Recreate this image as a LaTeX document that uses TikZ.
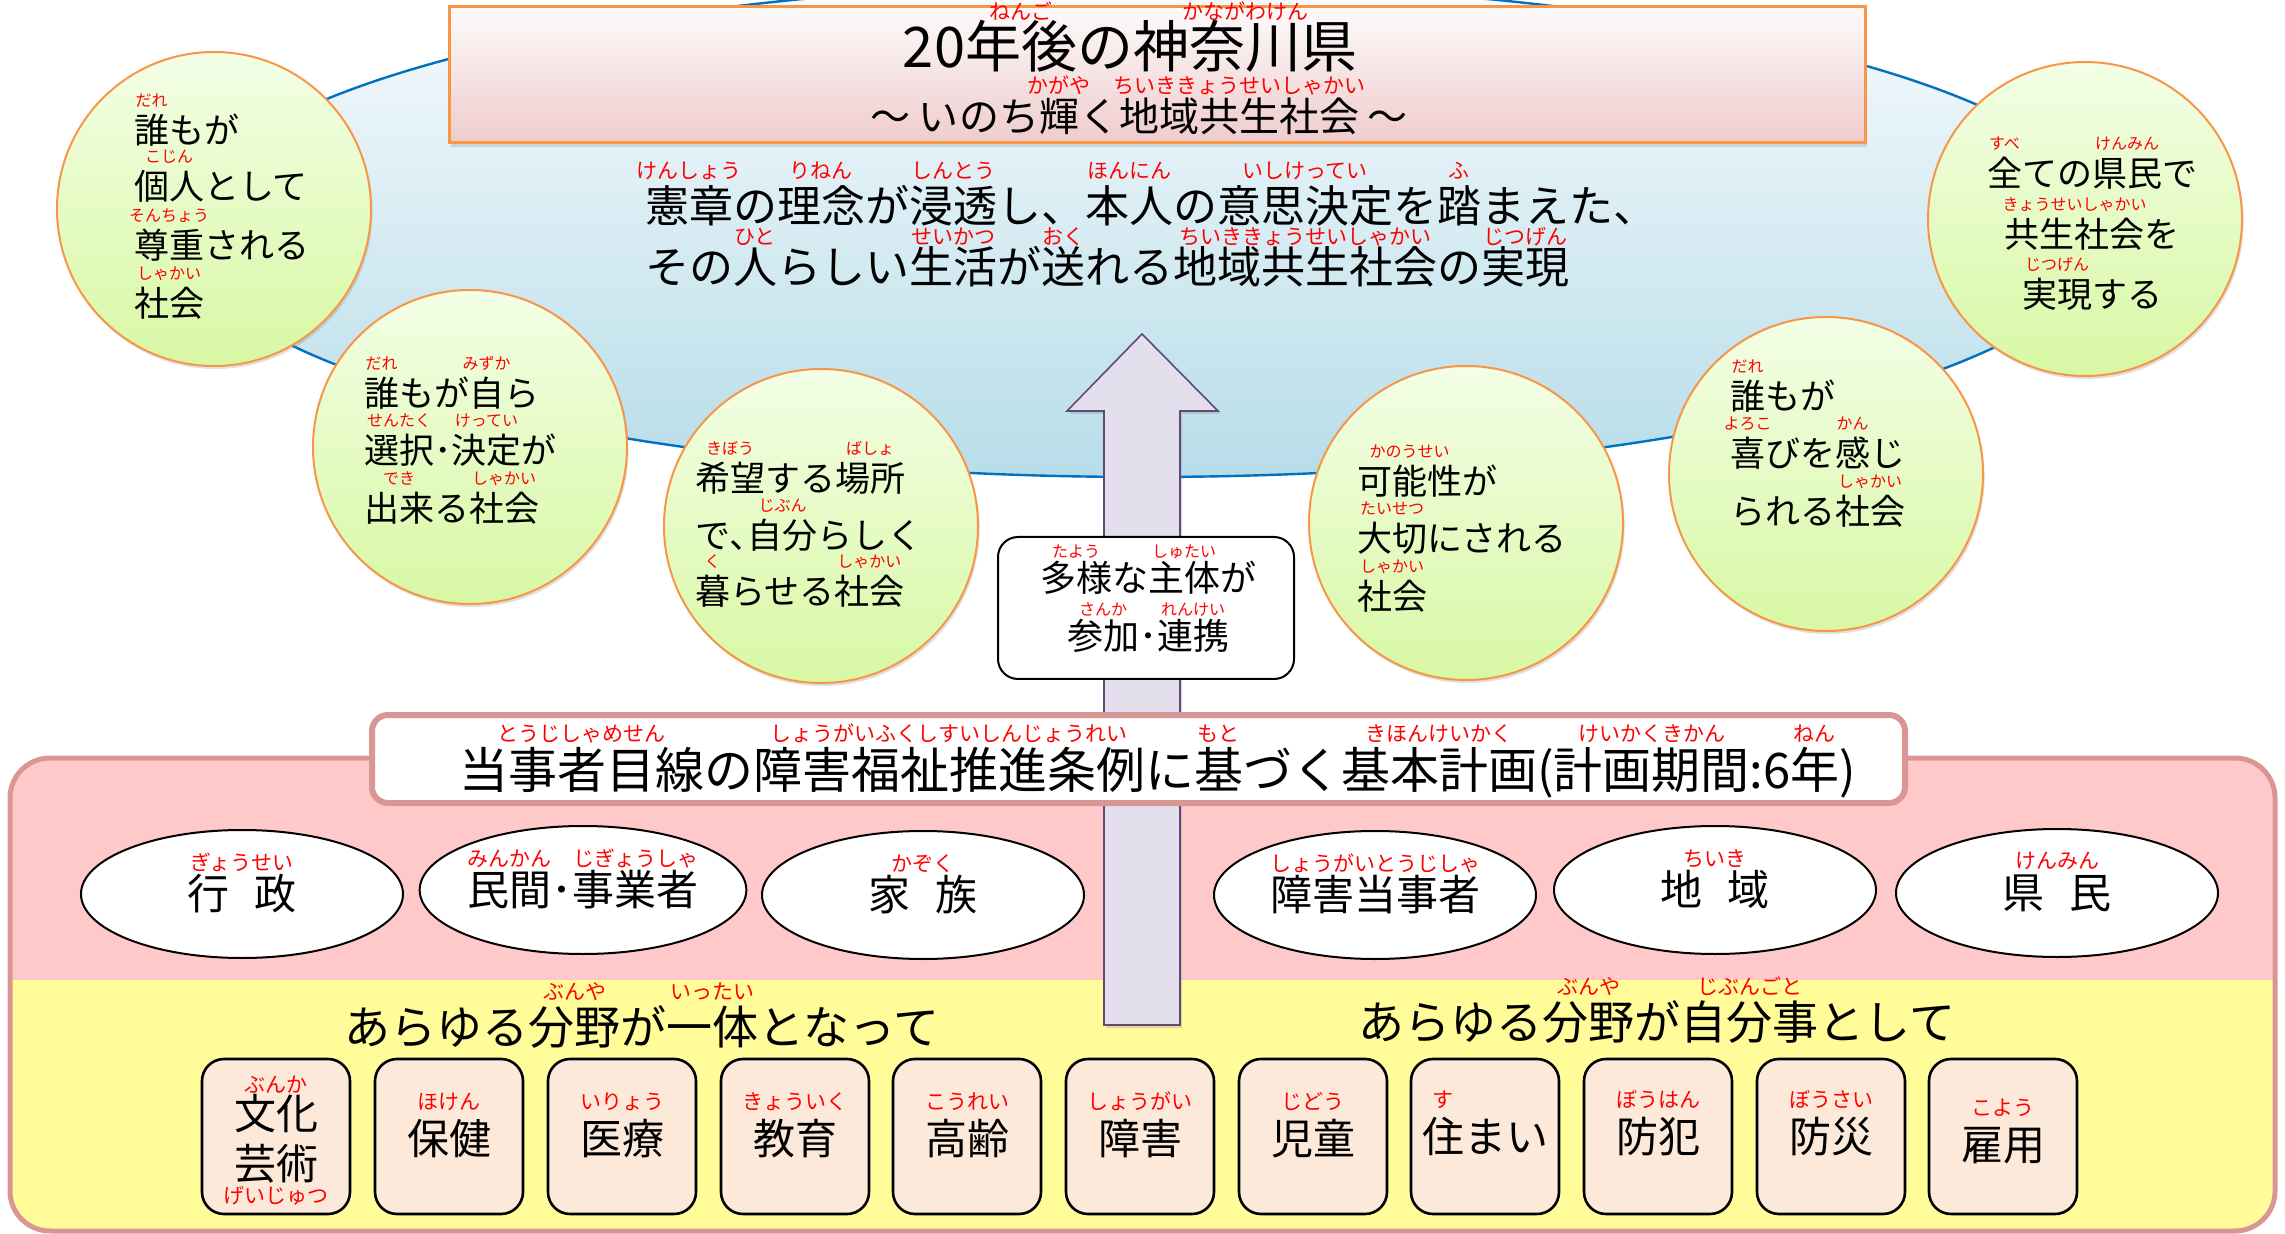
\documentclass[tikz,border=0pt]{standalone}
\usepackage{fontspec}
\setmainfont{Noto Sans CJK JP}
\usetikzlibrary{shapes.geometric,shadows}
\definecolor{rubyred}{RGB}{255,0,0}
\definecolor{eblue}{RGB}{0,112,192}
\definecolor{etop}{RGB}{248,251,253}
\definecolor{ebot}{RGB}{183,221,233}
\definecolor{orng}{RGB}{247,150,70}
\definecolor{ttop}{RGB}{253,250,250}
\definecolor{tbot}{RGB}{239,204,204}
\definecolor{gtop}{RGB}{243,254,230}
\definecolor{gbot}{RGB}{216,248,164}
\definecolor{pnk}{RGB}{255,201,201}
\definecolor{ylw}{RGB}{255,252,153}
\definecolor{pborder}{RGB}{217,150,148}
\definecolor{peach}{RGB}{253,233,217}
\definecolor{lav}{RGB}{228,223,236}
\definecolor{lavb}{RGB}{96,73,122}
\newbox\rbbox
\newcommand\rbsz{10pt}
\newcommand\rbup{1em}
\newcommand\rb[2]{\leavevmode\setbox\rbbox=\hbox{#1}\hbox to\wd\rbbox{\hss\smash{\raisebox{\rbup}{\fontsize{\rbsz}{\rbsz}\selectfont\color{rubyred}#2}}\hss}\kern-\wd\rbbox\box\rbbox}
\newcommand\gap{\hspace{0.6em}}
\tikzset{
  tx/.style={inner sep=0pt, outer sep=0pt},
  ttl/.style={tx, anchor=base, font={\fontsize{28pt}{28pt}\selectfont\def\rbsz{10.5pt}\def\rbup{0.86em}}},
  subt/.style={tx, anchor=base, font={\fontsize{20pt}{20pt}\selectfont\def\rbsz{10.5pt}\def\rbup{0.95em}}},
  mtx/.style={tx, anchor=base west, font={\fontsize{22pt}{22pt}\selectfont\def\rbsz{10.5pt}\def\rbup{1.0em}}},
  ctx/.style={tx, anchor=base west, font={\fontsize{17.5pt}{17.5pt}\selectfont\def\rbsz{8pt}\def\rbup{1.08em}}},
  ctxc/.style={ctx, anchor=base},
  ttx/.style={tx, anchor=base, font={\fontsize{18pt}{18pt}\selectfont\def\rbsz{8pt}\def\rbup{0.95em}}},
  ptx/.style={tx, anchor=base west, font={\fontsize{24.5pt}{24.5pt}\selectfont\def\rbsz{10.5pt}\def\rbup{0.95em}}},
  htx/.style={tx, anchor=base, font={\fontsize{23pt}{23pt}\selectfont\def\rbsz{10.5pt}\def\rbup{0.96em}}},
  btx/.style={tx, anchor=base, font={\fontsize{21pt}{21pt}\selectfont\def\rbsz{10.5pt}\def\rbup{1.07em}}},
  bubble/.style={circle, minimum size=157pt, inner sep=0pt, draw=orng, line width=1pt,
     top color=gtop, bottom color=gbot,
     drop shadow={shadow xshift=0.8pt, shadow yshift=-1.5pt, opacity=0.25}},
  oval/.style={ellipse, draw=black, line width=1pt, fill=white, minimum width=161pt,
     minimum height=64pt, inner sep=0pt,
     font={\fontsize{21pt}{21pt}\selectfont\def\rbsz{10.5pt}\def\rbup{0.95em}}},
  sbox/.style={rectangle, rounded corners=11pt, draw=black, line width=1.3pt, fill=peach,
     minimum width=74pt, minimum height=77.5pt, inner sep=0pt},
}
\begin{document}
\begin{tikzpicture}[x=0.5pt,y=-0.5pt]
\useasboundingbox (0,0) rectangle (2285,1234);
% big ellipse
\path[draw=eblue, line width=1.2pt, top color=etop, bottom color=ebot]
  (1145,230) ellipse [x radius=482.5pt, y radius=123.5pt];
% title box
\node (title) [rectangle, draw=orng, line width=1.5pt, top color=ttop, bottom color=tbot,
  minimum width=708pt, minimum height=68pt, inner sep=0pt,
  drop shadow={shadow xshift=1pt, shadow yshift=-2pt, opacity=0.25}] at (1157,75) {};
\node (t1) [ttl] at (1130,68) {20\rb{年後}{ねんご}の\rb{神奈川県}{かながわけん}};
\node (t2) [subt] at (1139,132) {～ いのち\rb{輝}{かがや}く\rb{地域共生社会}{ちいききょうせいしゃかい} ～};
% main text
\node (m1) [mtx] at (645,223) {\rb{憲章}{けんしょう}の\rb{理念}{りねん}が\rb{浸透}{しんとう}し、\rb{本人}{ほんにん}の\rb{意思決定}{いしけってい}を\rb{踏}{ふ}まえた、};
\node (m2) [mtx] at (645,284) {\def\rbup{0.9em}その\rb{人}{ひと}らしい\rb{生活}{せいかつ}が\rb{送}{おく}れる\rb{地域共生社会}{ちいききょうせいしゃかい}の\rb{実現}{じつげん}};
% circles
\node (c1) [bubble] at (214,209) {};
\node (c2) [bubble] at (470,447) {};
\node (c3) [bubble] at (821,526) {};
\node (c4) [bubble] at (1466,523) {};
\node (c5) [bubble] at (1826,474) {};
\node (c6) [bubble] at (2085,219) {};
\node (c1a) [ctx] at (134,144) {\rb{誰}{だれ}もが};
\node (c1b) [ctx] at (134,200) {\rb{個人}{こじん}として};
\node (c1c) [ctx] at (134,259) {\rb{尊重}{そんちょう}される};
\node (c1d) [ctx] at (134,317) {\rb{社会}{しゃかい}};
\node (c2a) [ctx] at (364,407) {\rb{誰}{だれ}もが\rb{自}{みずか}ら};
\node (c2b) [ctx] at (364,464) {\rb{選択}{せんたく}･\rb{決定}{けってい}が};
\node (c2c) [ctx] at (364,522) {\rb{出来}{でき}る\rb{社会}{しゃかい}};
\node (c3a) [ctx] at (695,492) {\rb{希望}{きぼう}する\rb{場所}{ばしょ}};
\node (c3b) [ctx] at (695,549) {で､\rb{自分}{じぶん}らしく};
\node (c3c) [ctx] at (695,605) {\rb{暮}{く}らせる\rb{社会}{しゃかい}};
\node (c4a) [ctx] at (1357,495) {\rb{可能性}{かのうせい}が};
\node (c4b) [ctx] at (1357,552) {\rb{大切}{たいせつ}にされる};
\node (c4c) [ctx] at (1357,610) {\rb{社会}{しゃかい}};
\node (c5a) [ctx] at (1730,410) {\rb{誰}{だれ}もが};
\node (c5b) [ctx] at (1730,467) {\rb{喜}{よろこ}びを\rb{感}{かん}じ};
\node (c5c) [ctx] at (1730,525) {られる\rb{社会}{しゃかい}};
\node (c6a) [ctxc] at (2092,187) {\rb{全}{すべ}ての\rb{県民}{けんみん}で};
\node (c6b) [ctxc] at (2092,248) {\rb{共生社会}{きょうせいしゃかい}を};
\node (c6c) [ctxc] at (2092,308) {\rb{実現}{じつげん}する};
% bottom panel
\fill[pnk, rounded corners=20pt] (10,758) rectangle (2275,1231);
\begin{scope}
  \clip[rounded corners=20pt] (10,758) rectangle (2275,1231);
  \fill[ylw] (0,980) rectangle (2285,1240);
\end{scope}
\draw[pborder, line width=2.5pt, rounded corners=20pt] (10,758) rectangle (2275,1231);
% arrow
\draw[fill=lav, draw=lavb, line width=0.8pt, drop shadow={shadow xshift=1pt, shadow yshift=-1.5pt, opacity=0.25}]
  (1104,1025) -- (1104,411) -- (1067,411) -- (1142,334) -- (1218,411) -- (1180,411) -- (1180,1025) -- cycle;
% participation box
\node (tayo) [rectangle, rounded corners=10pt, draw=black, line width=1pt, fill=white,
  minimum width=148pt, minimum height=71pt, inner sep=0pt] at (1146,608) {};
\node (tayo1) [ttx] at (1148,592) {\rb{多様}{たよう}な\rb{主体}{しゅたい}が};
\node (tayo2) [ttx] at (1148,650) {\rb{参加}{さんか}･\rb{連携}{れんけい}};
% plan box
\node (plan) [rectangle, rounded corners=8pt, draw=pborder, line width=3pt, fill=white,
  minimum width=766.5pt, minimum height=44pt, inner sep=0pt] at (1138.5,759) {};
\node (plant) [ptx] at (459,788) {\rb{当事者目線}{とうじしゃめせん}の\rb{障害福祉推進条例}{しょうがいふくしすいしんじょうれい}に\rb{基}{もと}づく\rb{基本計画}{きほんけいかく}(\rb{計画期間}{けいかくきかん}:6\rb{年}{ねん})};
% actors
\node (e1) [oval] at (242,894) {\rb{行\gap 政}{ぎょうせい}};
\node (e2) [oval] at (583,890) {\rb{民間}{みんかん}･\rb{事業者}{じぎょうしゃ}};
\node (e3) [oval] at (923,895) {\rb{家\gap 族}{かぞく}};
\node (e4) [oval] at (1375,895) {\rb{障害当事者}{しょうがいとうじしゃ}};
\node (e5) [oval] at (1715,890) {\rb{地\gap 域}{ちいき}};
\node (e6) [oval] at (2057,893) {\rb{県\gap 民}{けんみん}};
% headings
\node (h1) [htx] at (642,1044) {あらゆる\rb{分野}{ぶんや}が\rb{一体}{いったい}となって};
\node (h2) [htx] at (1657,1039) {あらゆる\rb{分野}{ぶんや}が\rb{自分事}{じぶんごと}として};
% field boxes
\node (b1) [sbox] at (276,1136.5) {};
\node (b2) [sbox] at (449,1136.5) {};
\node (b3) [sbox] at (622,1136.5) {};
\node (b4) [sbox] at (795,1136.5) {};
\node (b5) [sbox] at (967,1136.5) {};
\node (b6) [sbox] at (1140,1136.5) {};
\node (b7) [sbox] at (1313,1136.5) {};
\node (b8) [sbox] at (1485,1136.5) {};
\node (b9) [sbox] at (1658,1136.5) {};
\node (b10) [sbox] at (1831,1136.5) {};
\node (b11) [sbox] at (2003,1136.5) {};
\node (bt1a) [btx] at (276,1129) {\def\rbup{0.88em}\rb{文化}{ぶんか}};
\node (bt1b) [btx] at (276,1179) {芸術};
\node (bt1c) [tx, anchor=base, text=rubyred, font=\fontsize{10.5pt}{10.5pt}\selectfont] at (276,1203) {げいじゅつ};
\node (bt2) [btx] at (449,1154) {\rb{保健}{ほけん}};
\node (bt3) [btx] at (622,1154) {\rb{医療}{いりょう}};
\node (bt4) [btx] at (795,1154) {\rb{教育}{きょういく}};
\node (bt5) [btx] at (967,1154) {\rb{高齢}{こうれい}};
\node (bt6) [btx] at (1140,1154) {\rb{障害}{しょうがい}};
\node (bt7) [btx] at (1313,1154) {\rb{児童}{じどう}};
\node (bt8) [btx] at (1485,1152) {\rb{住}{す}まい};
\node (bt9) [btx] at (1658,1152) {\rb{防犯}{ぼうはん}};
\node (bt10) [btx] at (1831,1152) {\rb{防災}{ぼうさい}};
\node (bt11) [btx] at (2003,1160) {\rb{雇用}{こよう}};
\end{tikzpicture}
\end{document}
